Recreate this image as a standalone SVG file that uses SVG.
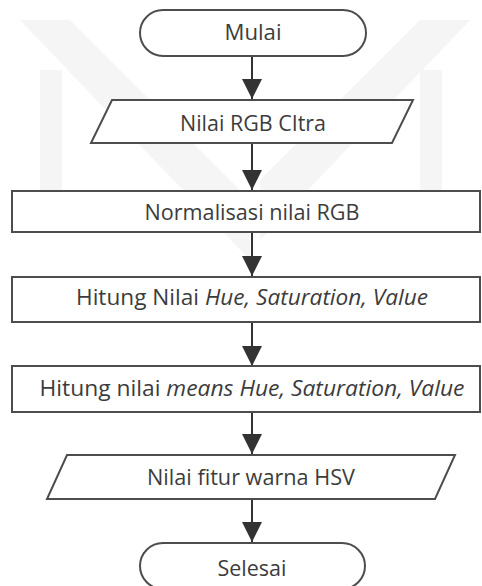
<svg xmlns="http://www.w3.org/2000/svg" width="482" height="586" viewBox="0 0 482 586">
  <style>
    .shape { fill: #ffffff; stroke: #4d4d4d; stroke-width: 2; }
    .label { font-family: "Open Sans", "Liberation Sans", sans-serif; font-size: 21px; fill: #3c3c3c; text-anchor: middle; }
    .it { font-style: italic; }
    .flow { stroke: #333333; stroke-width: 2; fill: none; marker-end: url(#head); }
    .mark { fill: #f5f5f5; }
  </style>
  <defs>
    <marker id="head" markerUnits="userSpaceOnUse" markerWidth="22" markerHeight="20" refX="20" refY="10" orient="auto">
      <path d="M0,0 L20,10 L0,20 Z" fill="#333333"/>
    </marker>
  </defs>

  <rect width="482" height="586" fill="#ffffff"/>

  <!-- faint background emblem -->
  <g id="emblem">
    <polygon class="mark" points="20,20 70,20 250,200 250,260"/>
    <polygon class="mark" points="470,20 420,20 260,180 260,240"/>
    <rect class="mark" x="40" y="70" width="22" height="140"/>
    <rect class="mark" x="420" y="70" width="22" height="140"/>
  </g>

  <g id="connectors">
    <line class="flow" x1="252" y1="56" x2="252" y2="99"/>
    <line class="flow" x1="252" y1="143" x2="252" y2="190"/>
    <line class="flow" x1="252" y1="232" x2="252" y2="276"/>
    <line class="flow" x1="252" y1="322" x2="252" y2="366"/>
    <line class="flow" x1="252" y1="412" x2="252" y2="454"/>
    <line class="flow" x1="252" y1="499" x2="252" y2="542"/>
  </g>

  <g id="start">
    <rect class="shape" x="140" y="10" width="226" height="46" rx="23"/>
    <text class="label" x="253" y="40" textLength="57" lengthAdjust="spacingAndGlyphs">Mulai</text>
  </g>

  <g id="input-rgb">
    <polygon class="shape" points="112,100 413,100 392,143 91,143"/>
    <text class="label" x="253" y="131" textLength="146" lengthAdjust="spacingAndGlyphs">Nilai RGB CItra</text>
  </g>

  <g id="normalize">
    <rect class="shape" x="12" y="191" width="468" height="41"/>
    <text class="label" x="252" y="220" textLength="215" lengthAdjust="spacingAndGlyphs">Normalisasi nilai RGB</text>
  </g>

  <g id="compute-hsv">
    <rect class="shape" x="12" y="277" width="468" height="45"/>
    <text class="label" x="252" y="305" textLength="352" lengthAdjust="spacingAndGlyphs">Hitung Nilai <tspan class="it">Hue, Saturation, Value</tspan></text>
  </g>

  <g id="compute-means">
    <rect class="shape" x="12" y="366" width="468" height="46"/>
    <text class="label" x="252" y="396" textLength="425" lengthAdjust="spacingAndGlyphs">Hitung nilai <tspan class="it">means Hue, Saturation, Value</tspan></text>
  </g>

  <g id="output-hsv">
    <polygon class="shape" points="67,455 455,455 435,499 47,499"/>
    <text class="label" x="251" y="485" textLength="208" lengthAdjust="spacingAndGlyphs">Nilai fitur warna HSV</text>
  </g>

  <g id="end">
    <rect class="shape" x="140" y="543" width="225" height="46" rx="23"/>
    <text class="label" x="252" y="576" textLength="69" lengthAdjust="spacingAndGlyphs">Selesai</text>
  </g>
</svg>
